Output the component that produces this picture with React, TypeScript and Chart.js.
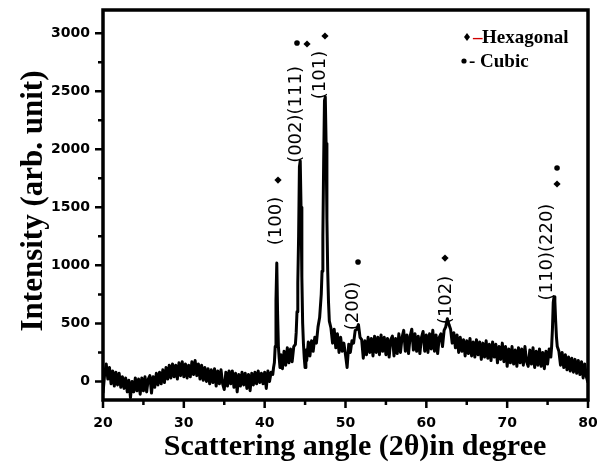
import React, { useEffect, useRef } from "react";
import { Chart, registerables } from "chart.js";

Chart.register(...registerables);

// XRD scan: [2θ (degree), intensity (arb. unit)]
const scanLow: [number, number][] = [
  [20.0, -100], [20.2, 60], [20.4, 150], [20.6, 20], [20.8, 120], [21.0, -20], [21.2, 90], [21.4, -40],
  [21.6, 80], [21.8, -30], [22.0, 70], [22.2, -50], [22.4, 40], [22.6, -60], [22.8, 30], [23.0, -90],
  [23.2, 10], [23.4, -140], [23.6, 0], [23.8, -90], [24.0, 30], [24.2, -80], [24.4, 20], [24.6, -110],
  [24.8, 30], [25.0, -80], [25.2, 40], [25.4, -90], [25.6, 20], [25.8, 50], [26.0, -100], [26.2, 40],
  [26.4, -50], [26.6, 70], [26.8, -30], [27.0, 80], [27.2, -20], [27.4, 100], [27.6, -10], [27.8, 120],
  [28.0, 20], [28.2, 140], [28.4, 30], [28.6, 150], [28.8, 40], [29.0, 140], [29.2, 20], [29.4, 160],
  [29.6, 50], [29.8, 170], [30.0, 40], [30.2, 150], [30.4, 30], [30.6, 140], [30.8, 40], [31.0, 170],
  [31.2, 60], [31.4, 180], [31.6, 50], [31.8, 150], [32.0, 20], [32.2, 140], [32.4, 10], [32.6, 120],
  [32.8, 0], [33.0, 110], [33.2, -20], [33.4, 100], [33.6, -10], [33.8, 110], [34.0, -40], [34.2, 90],
  [34.4, -20], [34.6, 100], [34.8, -20], [35.0, -70], [35.2, 80], [35.4, -40], [35.6, 90], [35.8, -20],
  [36.0, 90], [36.2, -50], [36.4, 70], [36.6, -90], [36.8, 60], [37.0, -40], [37.2, 80], [37.4, -30],
  [37.6, 70], [37.8, -60], [38.0, 60], [38.2, -80], [38.4, 70], [38.6, -30], [38.8, 80], [39.0, -20],
  [39.2, 90], [39.4, -10], [39.6, 70], [39.8, -20], [40.0, 80], [40.2, -60], [40.4, 90], [40.6, 0],
  [40.8, 80],
];

const scanMain: [number, number][] = [
  [41.0, 60], [41.1, 120], [41.2, 160], [41.3, 300], [41.4, 700], [41.5, 1020], [41.6, 580], [41.7, 300],
  [41.8, 200], [41.9, 120], [42.0, 230], [42.2, 110], [42.4, 260], [42.6, 140], [42.8, 290], [43.0, 160],
  [43.2, 280], [43.4, 170], [43.6, 300], [43.8, 320], [43.9, 420], [44.0, 600], [44.1, 850], [44.2, 1250],
  [44.3, 1850], [44.4, 1900], [44.5, 1500], [44.6, 900], [44.7, 500], [44.8, 320], [44.9, 200], [45.0, 120],
  [45.1, 270], [45.2, 180], [45.4, 340], [45.6, 220], [45.8, 350], [46.0, 260], [46.2, 380], [46.4, 330],
  [46.6, 470], [46.8, 550], [47.0, 750], [47.1, 950], [47.2, 1250], [47.3, 1900], [47.4, 2420], [47.5, 2450],
  [47.6, 2050], [47.7, 1400], [47.8, 950], [47.9, 680], [48.0, 520],
];

const scanMid: [number, number][] = [
  [48.2, 460], [48.4, 330], [48.6, 450], [48.8, 290], [49.0, 410], [49.2, 250], [49.4, 380], [49.6, 260],
  [49.8, 330], [50.0, 230], [50.2, 120], [50.4, 320], [50.6, 250], [50.8, 350], [51.0, 330], [51.2, 440],
  [51.4, 450], [51.6, 490], [51.8, 380], [52.0, 360], [52.2, 200], [52.4, 350], [52.6, 230], [52.8, 380],
  [53.0, 250], [53.2, 370], [53.4, 220], [53.6, 390], [53.8, 250], [54.0, 380], [54.2, 230], [54.4, 400],
  [54.6, 260], [54.8, 380], [55.0, 230], [55.2, 370], [55.4, 210], [55.6, 360], [55.8, 390], [56.0, 220],
  [56.2, 370], [56.4, 240], [56.6, 410], [56.8, 250], [57.0, 380], [57.2, 440], [57.4, 260], [57.6, 400],
  [57.8, 240], [58.0, 390], [58.2, 450], [58.4, 270], [58.6, 410], [58.8, 260], [59.0, 390], [59.2, 240],
  [59.4, 380], [59.6, 430], [59.8, 260], [60.0, 400], [60.2, 250], [60.4, 410], [60.6, 280], [60.8, 440],
  [61.0, 260], [61.2, 400], [61.4, 240], [61.6, 380], [61.8, 410], [62.0, 300], [62.2, 440], [62.4, 470],
  [62.6, 540], [62.8, 490], [63.0, 450], [63.2, 330], [63.4, 420], [63.6, 290], [63.8, 400], [64.0, 250],
  [64.2, 380], [64.4, 260], [64.6, 360], [64.8, 220], [65.0, 350], [65.2, 240], [65.4, 370], [65.6, 220],
  [65.8, 340], [66.0, 210], [66.2, 360], [66.4, 230], [66.6, 340], [66.8, 190], [67.0, 330], [67.2, 210],
  [67.4, 350], [67.6, 200], [67.8, 320], [68.0, 180], [68.2, 340], [68.4, 210], [68.6, 320], [68.8, 160],
  [69.0, 300], [69.2, 190], [69.4, 330], [69.6, 170], [69.8, 300], [70.0, 130], [70.2, 280], [70.4, 160],
  [70.6, 300], [70.8, 150], [71.0, 270], [71.2, 130], [71.4, 290], [71.6, 160], [71.8, 280], [72.0, 140],
  [72.2, 300], [72.4, 170], [72.6, 130], [72.8, 270], [73.0, 150], [73.2, 290], [73.4, 120], [73.6, 260],
  [73.8, 140], [74.0, 280], [74.2, 130], [74.4, 250], [74.6, 110], [74.8, 260], [75.0, 150], [75.2, 280],
  [75.4, 210],
];

const scanHigh: [number, number][] = [
  [75.5, 300], [75.6, 450], [75.7, 680], [75.8, 730], [75.9, 690], [76.0, 520], [76.1, 380], [76.2, 300],
  [76.4, 260], [76.6, 140], [76.8, 250], [77.0, 120], [77.2, 230], [77.4, 100], [77.6, 210], [77.8, 90],
  [78.0, 200], [78.2, 80], [78.4, 190], [78.6, 70], [78.8, 180], [79.0, 60], [79.2, 170], [79.4, 30],
  [79.6, 150], [79.8, 40], [80.0, -10],
];

const xTicks = [20, 30, 40, 50, 60, 70, 80];
const xMinorTicks = [25, 35, 45, 55, 65, 75];
const yTicks = [0, 500, 1000, 1500, 2000, 2500, 3000];
const yMinorTicks = [250, 750, 1250, 1750, 2250, 2750];

// Miller index labels, centred at (angle, intensity)
const peakLabels = ["(100)", "(002)(111)", "(101)", "(200)", "(102)", "(110)(220)"];
const peakLabelAngles = [41.4, 43.88, 46.85, 50.93, 62.43, 74.93];
const peakLabelHeights = [1382, 2300, 2640, 650, 702, 1115];

// Phase markers
const hexAngles = [41.65, 45.24, 47.46, 62.31, 76.17];
const hexHeights = [1735, 2907, 2976, 1063, 1701];
const cubicAngles = [44.0, 51.55, 76.17];
const cubicHeights = [2916, 1029, 1839];

const xTitle = "Scattering angle (2θ)in degree";
const yTitle = "Intensity (arb. unit)";

export default function App() {
  const ref = useRef<HTMLCanvasElement | null>(null);

  useEffect(() => {
    document.body.style.margin = "0";
    const canvas = ref.current;
    if (!canvas) return;

    const scan = [...scanLow, ...scanMain, ...scanMid, ...scanHigh].map(([x, y]) => ({ x, y }));
    const hex = hexAngles.map((x, i) => ({ x, y: hexHeights[i] }));
    const cubic = cubicAngles.map((x, i) => ({ x, y: cubicHeights[i] }));

    const decor = {
      id: "decor",
      afterDraw(chart: any) {
        const { ctx, chartArea: a, scales } = chart;
        const xs = scales.x;
        const ys = scales.y;
        ctx.save();
        ctx.strokeStyle = "#000";
        ctx.fillStyle = "#000";
        // frame
        ctx.lineWidth = 3.5;
        ctx.strokeRect(a.left, a.top, a.right - a.left, a.bottom - a.top);
        // ticks
        ctx.lineWidth = 2.5;
        ctx.beginPath();
        xTicks.forEach((v) => {
          const p = xs.getPixelForValue(v);
          ctx.moveTo(p, a.bottom);
          ctx.lineTo(p, a.bottom + 8);
        });
        xMinorTicks.forEach((v) => {
          const p = xs.getPixelForValue(v);
          ctx.moveTo(p, a.bottom);
          ctx.lineTo(p, a.bottom + 5);
        });
        yTicks.forEach((v) => {
          const p = ys.getPixelForValue(v);
          ctx.moveTo(a.left, p);
          ctx.lineTo(a.left - 8, p);
        });
        yMinorTicks.forEach((v) => {
          const p = ys.getPixelForValue(v);
          ctx.moveTo(a.left, p);
          ctx.lineTo(a.left - 5, p);
        });
        ctx.stroke();

        // peak labels
        ctx.font = "18px 'DejaVu Sans'";
        ctx.textAlign = "center";
        ctx.textBaseline = "middle";
        peakLabels.forEach((t, i) => {
          const px = xs.getPixelForValue(peakLabelAngles[i]);
          const py = ys.getPixelForValue(peakLabelHeights[i]);
          ctx.save();
          ctx.translate(px, py);
          ctx.rotate(-Math.PI / 2);
          ctx.fillText(t, 0, 0);
          ctx.restore();
        });

        // legend
        const lx = a.right - 121;
        const ly = a.top + 27;
        ctx.beginPath();
        ctx.moveTo(lx, ly - 4);
        ctx.lineTo(lx + 3, ly);
        ctx.lineTo(lx, ly + 4);
        ctx.lineTo(lx - 3, ly);
        ctx.closePath();
        ctx.fill();
        ctx.beginPath();
        ctx.arc(lx - 3, ly + 24, 2.6, 0, Math.PI * 2);
        ctx.fill();
        ctx.font = "bold 19px 'Liberation Serif'";
        ctx.textAlign = "left";
        ctx.textBaseline = "alphabetic";
        ctx.fillStyle = "#d00000";
        ctx.fillText("–", lx + 6, ly + 6);
        ctx.fillStyle = "#000";
        ctx.fillText("Hexagonal", lx + 15, ly + 6);
        ctx.fillText("- Cubic", lx + 2, ly + 30);

        // axis titles
        ctx.font = "bold 30px 'Liberation Serif'";
        ctx.textAlign = "center";
        ctx.fillText(xTitle, 355, 455);
        ctx.save();
        ctx.translate(42, 201);
        ctx.rotate(-Math.PI / 2);
        ctx.font = "bold 31px 'Liberation Serif'";
        ctx.fillText(yTitle, 0, 0);
        ctx.restore();
        ctx.restore();
      },
    };

    const tickFont = { family: "'DejaVu Sans'", weight: "bold" as const, size: 14 };

    const chart = new Chart(canvas, {
      type: "scatter",
      data: {
        datasets: [
          {
            data: scan,
            showLine: true,
            borderColor: "#000",
            borderWidth: 3,
            borderJoinStyle: "round",
            pointRadius: 0,
            tension: 0,
          },
          {
            data: hex,
            pointStyle: "rectRot",
            pointRadius: 3.6,
            backgroundColor: "#000",
            borderColor: "#000",
            borderWidth: 0,
          },
          {
            data: cubic,
            pointStyle: "circle",
            pointRadius: 2.8,
            backgroundColor: "#000",
            borderColor: "#000",
            borderWidth: 0,
          },
        ],
      },
      options: {
        animation: false,
        responsive: false,
        events: [],
        layout: { padding: { top: 10, right: 9, left: 0, bottom: 0 } },
        plugins: { legend: { display: false }, tooltip: { enabled: false } },
        scales: {
          x: {
            type: "linear",
            min: 20,
            max: 80,
            grid: { display: false, drawTicks: false, tickLength: 0 },
            border: { display: false },
            afterBuildTicks: (s: any) => {
              s.ticks = xTicks.map((v) => ({ value: v }));
            },
            afterFit: (s: any) => {
              s.height = 65;
              s.paddingLeft = 0;
              s.paddingRight = 0;
            },
            ticks: {
              padding: 15,
              color: "#000",
              font: tickFont,
              maxRotation: 0,
              callback: (v: any) => String(v),
            },
          },
          y: {
            type: "linear",
            min: -160,
            max: 3200,
            grid: { display: false, drawTicks: false, tickLength: 0 },
            border: { display: false },
            afterBuildTicks: (s: any) => {
              s.ticks = yTicks.map((v) => ({ value: v }));
            },
            afterFit: (s: any) => {
              s.width = 103;
              s.paddingTop = 0;
              s.paddingBottom = 0;
            },
            ticks: {
              padding: 13,
              color: "#000",
              font: tickFont,
              callback: (v: any) => String(v),
            },
          },
        },
      },
      plugins: [decor],
    });

    return () => chart.destroy();
  }, []);

  return (
    <div style={{ width: 597, height: 465, background: "#fff" }}>
      <canvas ref={ref} width={597} height={465} style={{ display: "block" }} />
    </div>
  );
}
